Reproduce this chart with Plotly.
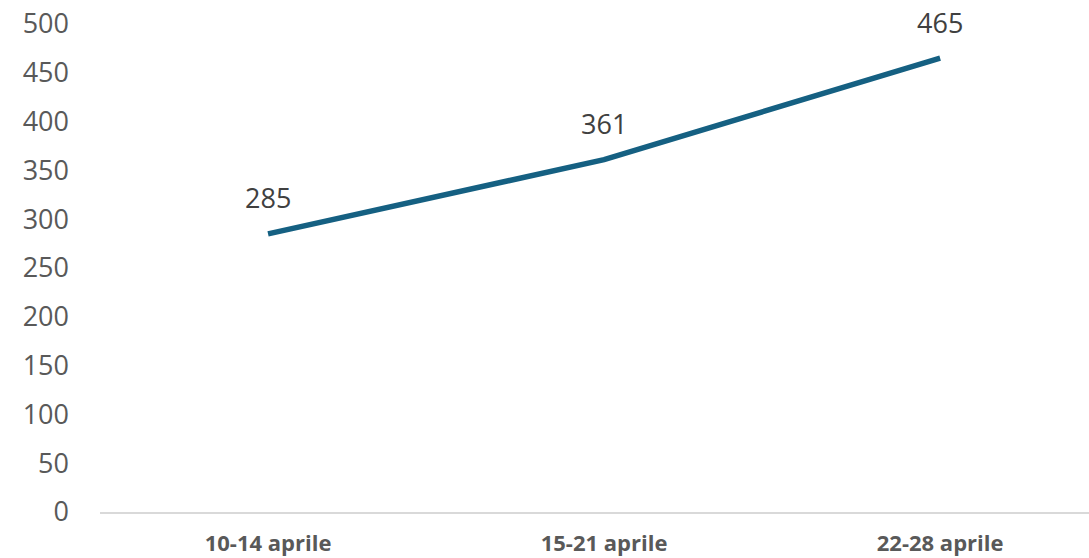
import plotly.graph_objects as go

weeks = ["10-14 aprile", "15-21 aprile", "22-28 aprile"]
counts = [285, 361, 465]
y_ticks = [0, 50, 100, 150, 200, 250, 300, 350, 400, 450, 500]

line_color = "#156082"

fig = go.Figure()
fig.add_trace(go.Scatter(
    x=weeks,
    y=counts,
    mode="lines",
    line=dict(color=line_color, width=5.5),
    hoverinfo="x+y",
    showlegend=False,
))

# data labels above each point
for w, c in zip(weeks, counts):
    fig.add_annotation(
        x=w, y=c, text=str(c),
        showarrow=False, yshift=36, yanchor="middle",
        font=dict(family="Open Sans", size=27, color="#404040"),
    )

fig.update_layout(
    width=1089,
    height=558,
    margin=dict(l=100, r=0, t=24, b=46),
    plot_bgcolor="white",
    paper_bgcolor="white",
    font=dict(family="Open Sans", color="#595959"),
    xaxis=dict(
        type="category",
        range=[-0.5, 2.443],
        automargin=False,
        showgrid=False,
        zeroline=False,
        showline=True,
        linecolor="#D9D9D9",
        linewidth=1.5,
        ticks="",
        ticklabelstandoff=11,
        tickfont=dict(family="Open Sans", size=22, color="#595959", weight="bold"),
    ),
    yaxis=dict(
        range=[0, 500],
        tickvals=y_ticks,
        automargin=False,
        showgrid=False,
        zeroline=False,
        showline=False,
        ticks="",
        ticklabelstandoff=30,
        tickfont=dict(family="Open Sans", size=27, color="#595959"),
    ),
)

# page body has a default 8px margin; drop it so the figure fills the window
fig.write_html(
    "out.html",
    config={"displayModeBar": False},
    post_script="document.body.style.margin='0';document.body.style.overflow='hidden';",
)
